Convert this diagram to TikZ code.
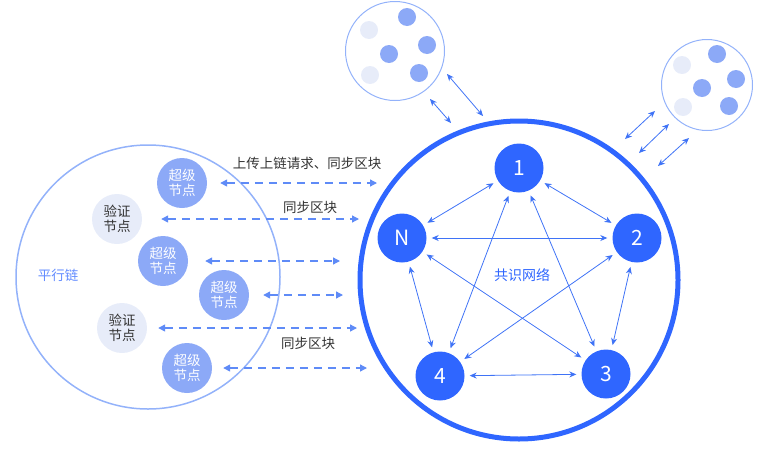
\documentclass[tikz,border=0pt]{standalone}
\usepackage{fontspec}
\setmainfont{Noto Sans CJK SC}
\usetikzlibrary{arrows.meta}
\definecolor{netblue}{HTML}{2F66FF}
\definecolor{lineblue}{HTML}{3F73F6}
\definecolor{dashblue}{HTML}{5F8BF7}
\definecolor{ringblue}{HTML}{93B2FA}
\definecolor{supblue}{HTML}{8CA9F7}
\definecolor{verpale}{HTML}{E7ECF9}
\definecolor{labelgray}{HTML}{333333}

\begin{document}
\begin{tikzpicture}[x=1pt,y=-1pt,
		cnode/.style={circle,fill=netblue,text=white,minimum size=49pt,inner sep=0pt,font=\fontsize{21}{21}\selectfont},
		supnode/.style={circle,fill=supblue,text=white,minimum size=50pt,inner sep=0pt,align=center,font=\fontsize{13.5}{15}\selectfont},
		vernode/.style={supnode,fill=verpale,text=labelgray},
		bdot/.style={circle,fill=supblue,minimum size=18pt,inner sep=0pt},
		pdot/.style={bdot,fill=verpale},
		link/.style={lineblue,line width=0.8pt,{Stealth[length=7pt,width=6pt]}-{Stealth[length=7pt,width=6pt]}},
		dasharr/.style={dashblue,line width=1.3pt,dash pattern=on 8pt off 6pt,{Triangle[length=7pt,width=7pt]}-{Triangle[length=7pt,width=7pt]}},
		lbl/.style={text=labelgray,font=\fontsize{13.5}{15}\selectfont}]
				\useasboundingbox (0,0) rectangle (765,453);
				
				% outer rings
				\node[circle,draw=netblue,line width=5pt,minimum size=318pt,inner sep=0pt] (ring) at (519,280) {};
				\node[circle,draw=ringblue,line width=1.5pt,minimum size=264pt,inner sep=0pt] (para) at (148,277) {};
				\node[circle,draw=ringblue,line width=1pt,minimum size=99pt,inner sep=0pt] (ctl) at (395,51) {};
				\node[circle,draw=ringblue,line width=1pt,minimum size=91pt,inner sep=0pt] (ctr) at (707,85) {};
				
				% consensus network
				\node[cnode] (n1) at (519,168) {1};
				\node[cnode] (n2) at (637,238) {2};
				\node[cnode] (n3) at (606,374) {3};
				\node[cnode] (n4) at (440,376) {4};
				\node[cnode] (nN) at (402,238) {N};
				\node[text=netblue,font=\fontsize{14}{15}\selectfont] (cons) at (522,275) {共识网络};
				\foreach \a/\b in {n1/n2,n1/nN,n1/n4,n1/n3,nN/n2,n2/n4,n2/n3,nN/n4,nN/n3,n4/n3}
					\draw[link,shorten >=5pt,shorten <=5pt] (\a) -- (\b);
				
				% parallel chain
				\node[text=netblue!75,font=\fontsize{13.5}{15}\selectfont] (pl) at (58,275) {平行链};
				\node[supnode] (s1) at (182,183) {超级\\节点};
				\node[vernode] (v1) at (117,219) {验证\\节点};
				\node[supnode] (s2) at (163,261) {超级\\节点};
				\node[supnode] (s3) at (224,295) {超级\\节点};
				\node[vernode] (v2) at (122,328) {验证\\节点};
				\node[supnode] (s4) at (187,368) {超级\\节点};
				
				\coordinate (e1) at (377,184);
				\coordinate (e2) at (359,219);
				\coordinate (e3) at (340,262);
				\coordinate (e4) at (343,296);
				\coordinate (e5) at (357,329);
				\coordinate (e6) at (367,369);
				\foreach \n/\e/\g in {s1/e1/13,v1/e2/19,s2/e3/17,s3/e4/14,v2/e5/11,s4/e6/11}
					\draw[dasharr,shorten <=\g pt] (\n.east) -- (\n.east -| \e);
				
				\node[lbl] (t1) at (307,163) {上传上链请求、同步区块};
				\node[lbl] (t2) at (310,207) {同步区块};
				\node[lbl] (t3) at (308,343) {同步区块};
				
				% other chains
				\node[bdot] (a1) at (407,17) {};
				\node[pdot] (a2) at (369,30) {};
				\node[bdot] (a3) at (427,45) {};
				\node[bdot] (a4) at (389,54) {};
				\node[pdot] (a5) at (370,75) {};
				\node[bdot] (a6) at (419,73) {};
				\node[bdot] (b1) at (717,54) {};
				\node[pdot] (b2) at (682,65) {};
				\node[bdot] (b3) at (736,79) {};
				\node[bdot] (b4) at (702,88) {};
				\node[pdot] (b5) at (683,107) {};
				\node[bdot] (b6) at (729,106) {};
				
				\coordinate (p1) at (430,99);  \coordinate (q1) at (451,123);
				\coordinate (p2) at (447,74);  \coordinate (q2) at (483,116);
				\coordinate (p3) at (625,139); \coordinate (q3) at (655,111);
				\coordinate (p4) at (639,153); \coordinate (q4) at (669,124);
				\coordinate (p5) at (658,166); \coordinate (q5) at (689,138);
				\foreach \i in {1,...,5}
					\draw[link] (p\i) -- (q\i);
			\end{tikzpicture}
\end{document}
